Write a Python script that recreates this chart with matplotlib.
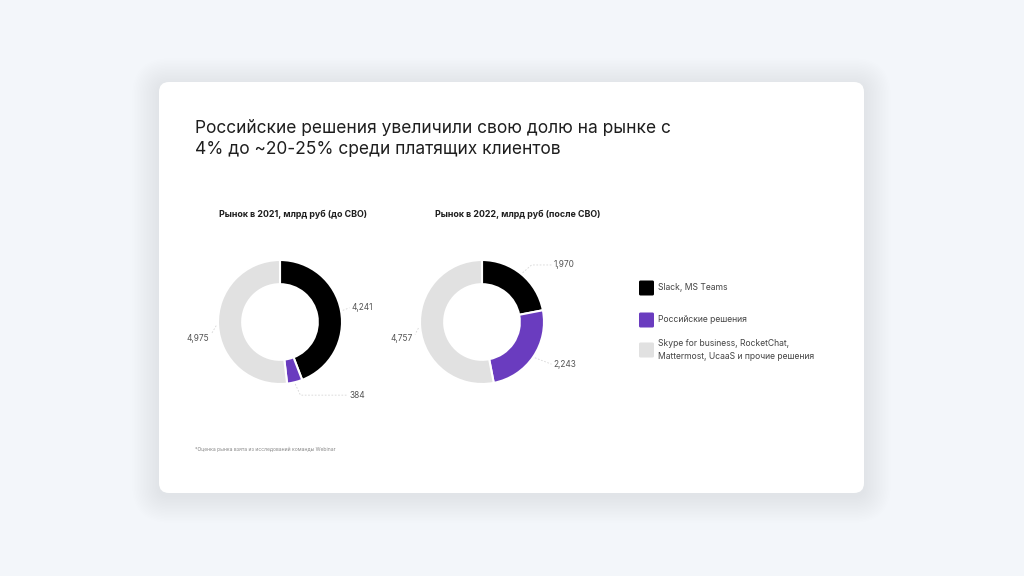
import matplotlib
matplotlib.use("Agg")
import matplotlib.pyplot as plt
import numpy as np
from matplotlib.patches import FancyBboxPatch

plt.rcParams['font.family'] = ['Inter', 'DejaVu Sans']

# ---- data ----
categories = ["Slack, MS Teams", "Российские решения",
              "Skype for business, RocketChat,\nMattermost, UcaaS и прочие решения"]
values_2021 = [4.241, 0.384, 4.975]
values_2022 = [1.970, 2.243, 4.757]
labels_2021 = ["4,241", "384", "4,975"]
labels_2022 = ["1,970", "2,243", "4,757"]
title = "Российские решения увеличили свою долю на рынке с\n4% до ~20-25% среди платящих клиентов"
subtitle_2021 = "Рынок в 2021, млрд руб (до СВО)"
subtitle_2022 = "Рынок в 2022, млрд руб (после СВО)"
footnote = "*Оценка рынка взята из исследований команды Webinar"

colors = ["#000000", "#6a3cbf", "#e1e1e1"]
W, H = 1024, 576

fig = plt.figure(figsize=(W / 100, H / 100), dpi=100)
fig.patch.set_facecolor("#f3f6fa")

bg = fig.add_axes([0, 0, 1, 1])
bg.set_xlim(0, W)
bg.set_ylim(H, 0)
bg.axis("off")

# card shadow (soft)
for i in range(18):
    pad = 1 + i * 1.5
    bg.add_patch(FancyBboxPatch((159 - pad, 85 - pad), 705 + 2 * pad, 411 + 2 * pad,
                                boxstyle=f"round,pad=0,rounding_size={10 + pad}",
                                facecolor="#9aa6bb", edgecolor="none", alpha=0.007, zorder=1))
bg.add_patch(FancyBboxPatch((159, 82), 705, 411, boxstyle="round,pad=0,rounding_size=10",
                            facecolor="white", edgecolor="none", zorder=2))

bg.text(195, 139, title, fontsize=12.5, color="#1e1e1e", va="center", ha="left",
        linespacing=1.25, zorder=3)
bg.text(293, 214, subtitle_2021, fontsize=6.4, fontweight="bold", color="#1e1e1e",
        ha="center", va="center", zorder=3)
bg.text(518, 214, subtitle_2022, fontsize=6.4, fontweight="bold", color="#1e1e1e",
        ha="center", va="center", zorder=3)
bg.text(195, 449, footnote, fontsize=3.6, color="#888888", ha="left", va="center", zorder=3)

# legend
leg_y = [288, 320, 350]
for c, lab, y in zip(colors, categories, leg_y):
    bg.add_patch(FancyBboxPatch((639, y - 7.5), 15, 15, boxstyle="round,pad=0,rounding_size=1.5",
                                facecolor=c, edgecolor="none", zorder=3))
    bg.text(658, y, lab, fontsize=6.2, color="#444444", ha="left", va="center",
            linespacing=1.45, zorder=3)


def donut(cx, cy, R, vals, labs, label_pos, leaders):
    ax = fig.add_axes([(cx - R) / W, 1 - (cy + R) / H, 2 * R / W, 2 * R / H])
    ax.set_zorder(5)
    ax.patch.set_alpha(0)
    wedges, _ = ax.pie(vals, colors=colors, startangle=90, counterclock=False, radius=1,
                       wedgeprops=dict(width=0.39, edgecolor="white", linewidth=1.5))
    ax.set_xlim(-1, 1)
    ax.set_ylim(-1, 1)
    ax.set_aspect("equal")
    total = sum(vals)
    start = 90.0
    for v, lab, (lx, ly), pts in zip(vals, labs, label_pos, leaders):
        ang = np.deg2rad(start - v / total * 180.0)
        start -= v / total * 360.0
        ex, ey = np.cos(ang) * 1.03, np.sin(ang) * 1.03
        xs = [ex] + [p[0] for p in pts]
        ys = [ey] + [p[1] for p in pts]
        ax.plot(xs, ys, ls=(0, (2, 2)), lw=0.6, color="#d6d6d6", clip_on=False)
        ax.text(lx, ly, lab, fontsize=6.0, color="#555555",
                ha="left" if lx > 0 else "right", va="center", clip_on=False)
    return ax


R = 62
donut(280, 322, R, values_2021, labels_2021,
      label_pos=[(1.15, 0.23), (1.12, -1.18), (-1.15, -0.26)],
      leaders=[[(1.12, 0.23)], [(0.33, -1.18), (1.08, -1.18)], [(-1.1, -0.18)]])
donut(482, 322, R, values_2022, labels_2022,
      label_pos=[(1.15, 0.92), (1.15, -0.68), (-1.12, -0.26)],
      leaders=[[(0.8, 0.92), (1.12, 0.92)], [(1.12, -0.68)], [(-1.08, -0.2)]])

fig.savefig("out.png", dpi=100, facecolor=fig.get_facecolor())
